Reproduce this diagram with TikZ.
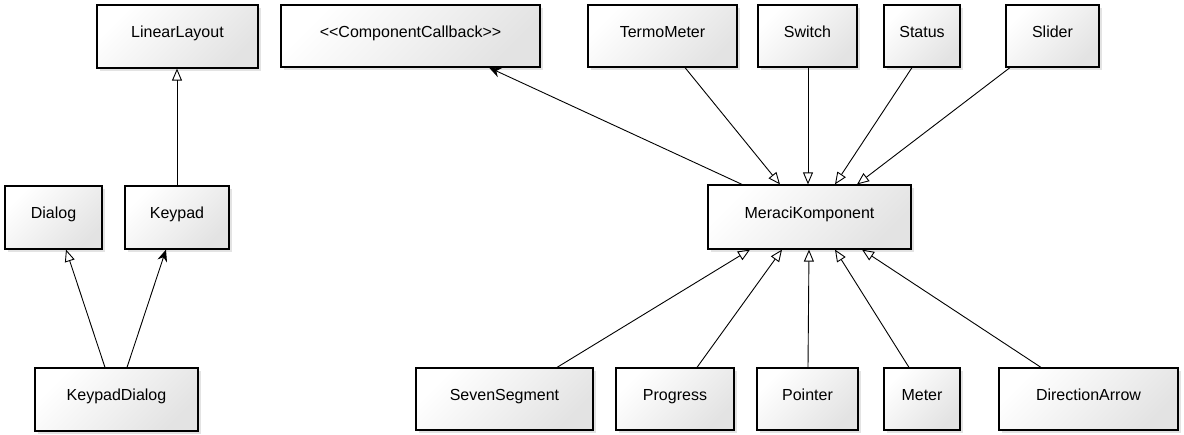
\documentclass[tikz,border=0pt]{standalone}
\usepackage{fontspec}
\setmainfont{Liberation Sans}
\usetikzlibrary{arrows.meta,shadows,calc}
\tikzset{
  box/.style={draw=black, line width=1.2pt, top color=white, bottom color=black!11, shading angle=45,
    drop shadow={opacity=0.22, shadow xshift=3pt, shadow yshift=-3pt},
    minimum height=63pt, inner sep=0pt, font=\fontsize{16}{19}\selectfont,
    text height=0.75em, text depth=0.49em},
  inh/.style={line width=0.9pt, -{Triangle[open, length=12pt, width=10pt, line width=0.9pt]}},
  dep/.style={line width=0.9pt, -{Stealth[length=12pt, width=10pt, inset=4pt]}}
}
\begin{document}
\begin{tikzpicture}[x=1pt, y=-1pt]
\useasboundingbox (0,0) rectangle (1184,435);
% top row
\node[box, minimum width=161pt] (ll) at (177.5,36.5) {LinearLayout};
\node[box, minimum width=259pt, minimum height=62pt] (cc) at (410.5,36) {<{}<ComponentCallback>{}>};
\node[box, minimum width=149pt, minimum height=62pt] (tm) at (662.5,36) {TermoMeter};
\node[box, minimum width=99pt, minimum height=62pt] (sw) at (807.5,36) {Switch};
\node[box, minimum width=76pt, minimum height=62pt] (st) at (922,36) {Status};
\node[box, minimum width=93pt, minimum height=62pt] (sl) at (1052.5,36) {Slider};
% middle row
\node[box, minimum width=97pt] (dl) at (53.5,217.5) {Dialog};
\node[box, minimum width=104pt] (kp) at (177,217.5) {Keypad};
\node[box, minimum width=203pt, minimum height=64pt] (mk) at (809.5,217) {MeraciKomponent};
% bottom row
\node[box, minimum width=163pt] (kd) at (116.5,399.5) {KeypadDialog};
\node[box, minimum width=177pt, minimum height=62pt] (ss) at (504.5,399) {SevenSegment};
\node[box, minimum width=118pt, minimum height=62pt] (pr) at (675,399) {Progress};
\node[box, minimum width=101pt, minimum height=62pt] (po) at (807.5,399) {Pointer};
\node[box, minimum width=76pt, minimum height=62pt] (me) at (922,399) {Meter};
\node[box, minimum width=179pt, minimum height=62pt] (da) at (1088.5,399) {DirectionArrow};
% left connectors
\draw[inh] (kp.north) -- ([xshift=-0.5pt]ll.south);
\draw[inh] ([xshift=-11.5pt]kd.north) -- ([xshift=12.5pt]dl.south);
\draw[dep] ([xshift=10.5pt]kd.north) -- ([xshift=-11pt]kp.south);
% callback
\draw[dep] ([xshift=-67.5pt]mk.north) -- ([xshift=78.5pt]cc.south);
% top into MeraciKomponent
\draw[inh] ([xshift=22.5pt]tm.south) -- ([xshift=-29.5pt]mk.north);
\draw[inh] ([xshift=0.5pt]sw.south) -- ([xshift=-1.5pt]mk.north);
\draw[inh] ([xshift=-10pt]st.south) -- ([xshift=25.5pt]mk.north);
\draw[inh] ([xshift=-42.5pt]sl.south) -- ([xshift=47.5pt]mk.north);
% bottom into MeraciKomponent
\draw[inh] ([xshift=52.5pt]ss.north) -- ([xshift=-59.5pt]mk.south);
\draw[inh] ([xshift=22pt]pr.north) -- ([xshift=-27.5pt]mk.south);
\draw[inh] ([xshift=0.5pt]po.north) -- ([xshift=-0.5pt]mk.south);
\draw[inh] ([xshift=-13pt]me.north) -- ([xshift=25.5pt]mk.south);
\draw[inh] ([xshift=-47.5pt]da.north) -- ([xshift=52.5pt]mk.south);
\end{tikzpicture}
\end{document}
